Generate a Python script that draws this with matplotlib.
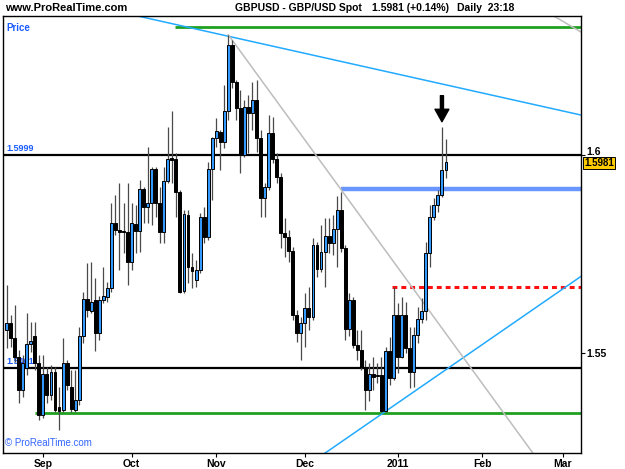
import numpy as np
import pandas as pd
import matplotlib
matplotlib.use('Agg')
import matplotlib.pyplot as plt
from matplotlib.transforms import blended_transform_factory, ScaledTranslation

plt.rcParams['font.family'] = ['Liberation Sans', 'DejaVu Sans']

# GBPUSD daily candles, 19 Aug 2010 - 19 Jan 2011
opens = [1.5557, 1.5574, 1.5536, 1.5490, 1.5406, 1.5461, 1.5521, 1.5542, 1.5473, 1.5342,
         1.5445, 1.5393, 1.5452, 1.5362, 1.5355, 1.5473, 1.5414, 1.5355, 1.5380, 1.5541,
         1.5635, 1.5605, 1.5633, 1.5549, 1.5633, 1.5642, 1.5663, 1.5827, 1.5810, 1.5808,
         1.5806, 1.5730, 1.5825, 1.5808, 1.5913, 1.5868, 1.5879, 1.5964, 1.5878, 1.5805,
         1.5935, 1.5993, 1.5990, 1.5907, 1.5657, 1.5848, 1.5717, 1.5684, 1.5709, 1.5844,
         1.5793, 1.5964, 1.6044, 1.6059, 1.6032, 1.6110, 1.6278, 1.6185, 1.6118, 1.6000,
         1.6121, 1.6105, 1.6139, 1.6042, 1.5890, 1.5920, 1.6055, 1.5989, 1.5945, 1.5802,
         1.5793, 1.5758, 1.5595, 1.5549, 1.5574, 1.5612, 1.5591, 1.5772, 1.5711, 1.5755,
         1.5795, 1.5777, 1.5812, 1.5861, 1.5764, 1.5559, 1.5633, 1.5519, 1.5507, 1.5464,
         1.5406, 1.5446, 1.5441, 1.5444, 1.5353, 1.5503, 1.5435, 1.5595, 1.5490, 1.5595,
         1.5513, 1.5452, 1.5545, 1.5584, 1.5606, 1.5751, 1.5844, 1.5874, 1.5899, 1.5962]
highs = [1.5671, 1.5595, 1.5621, 1.5507, 1.5494, 1.5600, 1.5578, 1.5578, 1.5494, 1.5494,
         1.5465, 1.5469, 1.5465, 1.5414, 1.5536, 1.5482, 1.5456, 1.5456, 1.5566, 1.5654,
         1.5726, 1.5730, 1.5688, 1.5643, 1.5717, 1.5680, 1.5878, 1.5899, 1.5928, 1.5879,
         1.5928, 1.5878, 1.5874, 1.5937, 1.5920, 1.6021, 1.5970, 1.5970, 1.5920, 1.5970,
         1.6072, 1.6110, 1.6004, 1.5912, 1.5861, 1.5861, 1.5751, 1.5734, 1.5853, 1.5869,
         1.5983, 1.6046, 1.6093, 1.6063, 1.6177, 1.6304, 1.6291, 1.6190, 1.6164, 1.6139,
         1.6152, 1.6185, 1.6190, 1.6063, 1.5928, 1.6101, 1.6097, 1.6005, 1.5954, 1.5841,
         1.5810, 1.5768, 1.5608, 1.5591, 1.5650, 1.5667, 1.5789, 1.5781, 1.5823, 1.5840,
         1.5840, 1.5848, 1.5896, 1.5907, 1.5772, 1.5651, 1.5641, 1.5557, 1.5557, 1.5482,
         1.5474, 1.5490, 1.5474, 1.5489, 1.5514, 1.5540, 1.5667, 1.5626, 1.5641, 1.5628,
         1.5566, 1.5566, 1.5616, 1.5638, 1.5781, 1.5874, 1.5890, 1.5912, 1.6071, 1.6040]
lows = [1.5511, 1.5515, 1.5477, 1.5372, 1.5389, 1.5444, 1.5502, 1.5456, 1.5330, 1.5334,
        1.5372, 1.5380, 1.5351, 1.5305, 1.5351, 1.5406, 1.5351, 1.5351, 1.5368, 1.5524,
        1.5591, 1.5600, 1.5503, 1.5532, 1.5625, 1.5629, 1.5654, 1.5798, 1.5709, 1.5752,
        1.5671, 1.5709, 1.5751, 1.5755, 1.5827, 1.5827, 1.5823, 1.5844, 1.5777, 1.5777,
        1.5928, 1.5928, 1.5844, 1.5650, 1.5650, 1.5676, 1.5663, 1.5667, 1.5701, 1.5777,
        1.5785, 1.5886, 1.6021, 1.5962, 1.6017, 1.6089, 1.6169, 1.6089, 1.5954, 1.5996,
        1.6004, 1.6063, 1.6008, 1.5843, 1.5844, 1.5912, 1.5979, 1.5929, 1.5764, 1.5742,
        1.5730, 1.5583, 1.5528, 1.5482, 1.5515, 1.5557, 1.5583, 1.5692, 1.5705, 1.5667,
        1.5751, 1.5747, 1.5717, 1.5755, 1.5532, 1.5542, 1.5512, 1.5482, 1.5456, 1.5355,
        1.5378, 1.5406, 1.5423, 1.5351, 1.5350, 1.5418, 1.5431, 1.5449, 1.5487, 1.5499,
        1.5410, 1.5414, 1.5524, 1.5574, 1.5583, 1.5717, 1.5836, 1.5857, 1.5895, 1.5942]
closes = [1.5574, 1.5536, 1.5490, 1.5406, 1.5473, 1.5522, 1.5530, 1.5473, 1.5342, 1.5445,
          1.5393, 1.5452, 1.5355, 1.5353, 1.5473, 1.5418, 1.5357, 1.5380, 1.5541, 1.5635,
          1.5608, 1.5629, 1.5549, 1.5633, 1.5643, 1.5663, 1.5827, 1.5810, 1.5806, 1.5805,
          1.5730, 1.5827, 1.5808, 1.5913, 1.5868, 1.5879, 1.5964, 1.5878, 1.5805, 1.5935,
          1.5990, 1.5987, 1.5907, 1.5654, 1.5850, 1.5717, 1.5707, 1.5709, 1.5844, 1.5793,
          1.5964, 1.6042, 1.6061, 1.6032, 1.6110, 1.6278, 1.6185, 1.6118, 1.6000, 1.6121,
          1.6105, 1.6139, 1.6042, 1.5890, 1.5920, 1.6055, 1.5989, 1.5945, 1.5802, 1.5793,
          1.5758, 1.5595, 1.5549, 1.5574, 1.5612, 1.5591, 1.5772, 1.5711, 1.5755, 1.5795,
          1.5777, 1.5812, 1.5861, 1.5764, 1.5559, 1.5633, 1.5519, 1.5507, 1.5464, 1.5406,
          1.5446, 1.5439, 1.5444, 1.5353, 1.5503, 1.5435, 1.5595, 1.5490, 1.5595, 1.5513,
          1.5452, 1.5545, 1.5584, 1.5606, 1.5751, 1.5844, 1.5874, 1.5899, 1.5962, 1.5981]

start_date = '2010-08-19'
end_axis_date = '2011-03-10'
month_labels = ['Sep', 'Oct', 'Nov', 'Dec', '2011', 'Feb', 'Mar']

# horizontal levels
level_top = 1.5999
level_low = 1.5461
green_top = 1.6324
green_bot = 1.5348
blue_level = 1.5913
red_level = 1.5665
# trend lines as (x0, x1), (y0, y1) in bar index / price
cyan_down_x, cyan_down_y = [32.3, 142.5], [1.6352, 1.6101]
gray_x, gray_y = [55.0, 131.0], [1.6304, 1.5240]
gray2_x, gray2_y = [135.0, 142.5], [1.6356, 1.6311]
cyan_up_x, cyan_up_y = [79.0, 142.5], [1.5246, 1.5693]
arrow_bar = 108
arrow_top, arrow_tip = 1.6150, 1.6084
last_price = 1.5981

dates = pd.bdate_range(start_date, end_axis_date)
o = np.array(opens); h = np.array(highs); l = np.array(lows); c = np.array(closes)
x = np.arange(len(o))

fig = plt.figure(figsize=(6.25, 4.69), dpi=100)
ax = fig.add_axes([3 / 625, 1 - 453 / 469, 578 / 625, 437 / 469])
ax.set_xlim(-0.9, 142.5)
ax.set_ylim(1.52463, 1.63515)

# reference lines
ax.axhline(level_top, color='black', lw=1.6, zorder=1)
ax.axhline(level_low, color='black', lw=1.6, zorder=1)
ax.hlines(green_top, 41.8, 142.5, color='#1fa01f', lw=2, zorder=1)
ax.hlines(green_bot, 7.0, 142.5, color='#1fa01f', lw=2, zorder=1)
ax.hlines(blue_level, 83.0, 142.5, color='#6a96ff', lw=3.2, zorder=1)
ax.hlines(red_level, 95.6, 142.5, color='#ff1010', lw=2.2, linestyles=(0, (1.6, 1.3)), zorder=1)
ax.plot(cyan_down_x, cyan_down_y, color='#22aaff', lw=1.1, zorder=1)
ax.plot(cyan_up_x, cyan_up_y, color='#22aaff', lw=1.1, zorder=1)
ax.plot(gray_x, gray_y, color='#bdbdbd', lw=1.1, zorder=1)
ax.plot(gray2_x, gray2_y, color='#bdbdbd', lw=1.1, zorder=1)

# candles
up = c >= o
ax.vlines(x, l, h, color='#4a4a4a', lw=0.9, zorder=2)
body_lo = np.minimum(o, c)
body_h = np.maximum(np.abs(c - o), 0.00012)
ax.bar(x[up], body_h[up], bottom=body_lo[up], width=0.72, color='#3399ff',
       edgecolor='black', linewidth=0.7, zorder=3)
ax.bar(x[~up], body_h[~up], bottom=body_lo[~up], width=0.72, color='black',
       edgecolor='black', linewidth=0.7, zorder=3)

# arrow above the high
ax.annotate('', xy=(arrow_bar, arrow_tip), xytext=(arrow_bar, arrow_top),
            arrowprops=dict(facecolor='black', edgecolor='black', width=2.2,
                            headwidth=10, headlength=9), zorder=4)

# axes styling
for s in ax.spines.values():
    s.set_color('black')
    s.set_linewidth(1)
ax.yaxis.tick_right()
ax.set_yticks([1.55, 1.6])
ax.set_yticklabels(['1.55', '1.6'])
ax.tick_params(axis='y', length=3, width=0.8, pad=1, labelsize=7.5)
first_days = []
for m in pd.date_range('2010-09-01', '2011-03-01', freq='MS'):
    first_days.append(int(np.searchsorted(dates, m)))
ax.set_xticks(first_days)
ax.set_xticklabels(month_labels)
ax.tick_params(axis='x', length=3, width=0.8, pad=1, labelsize=7.5)
for t in ax.get_xticklabels() + ax.get_yticklabels():
    t.set_fontweight('bold')
# lift the "1.6" label so the last-price box sits under it
lbl16 = ax.get_yticklabels()[1]
lbl16.set_transform(lbl16.get_transform() + ScaledTranslation(0, 4 / 100, fig.dpi_scale_trans))

# texts
blue_txt = '#1a5cff'
ax.text(0.006, 0.985, 'Price', transform=ax.transAxes, color=blue_txt,
        fontsize=7, fontweight='bold', va='top', ha='left')
ax.text(0.006, level_top + 0.0005, '1.5999', transform=blended_transform_factory(ax.transAxes, ax.transData),
        color=blue_txt, fontsize=6.5, fontweight='bold', va='bottom', ha='left')
ax.text(0.006, level_low + 0.0005, '1.5461', transform=blended_transform_factory(ax.transAxes, ax.transData),
        color=blue_txt, fontsize=6.5, fontweight='bold', va='bottom', ha='left', zorder=1)
ax.text(0.004, 0.012, '\u00a9 ProRealTime.com', transform=ax.transAxes, color='#3366ff',
        fontsize=7, va='bottom', ha='left')
ax.text(1.005, last_price - 0.0002, '1.5981', transform=blended_transform_factory(ax.transAxes, ax.transData),
        fontsize=7, fontweight='bold', va='center', ha='left', color='black', clip_on=False,
        bbox=dict(boxstyle='square,pad=0.1', facecolor='#ffcc00', edgecolor='black', linewidth=0.7))

fig.text(5 / 625, 1 - 8 / 469, 'www.ProRealTime.com', fontsize=8, fontweight='bold', va='center', ha='left')
fig.text(235 / 625, 1 - 8 / 469, 'GBPUSD - GBP/USD Spot', fontsize=7.5, fontweight='bold', va='center', ha='left')
fig.text(372 / 625, 1 - 8 / 469, '1.5981 (+0.14%)', fontsize=7.5, fontweight='bold', va='center', ha='left')
fig.text(457 / 625, 1 - 8 / 469, 'Daily  23:18', fontsize=7.5, fontweight='bold', va='center', ha='left')

fig.savefig('out.png', dpi=100)
